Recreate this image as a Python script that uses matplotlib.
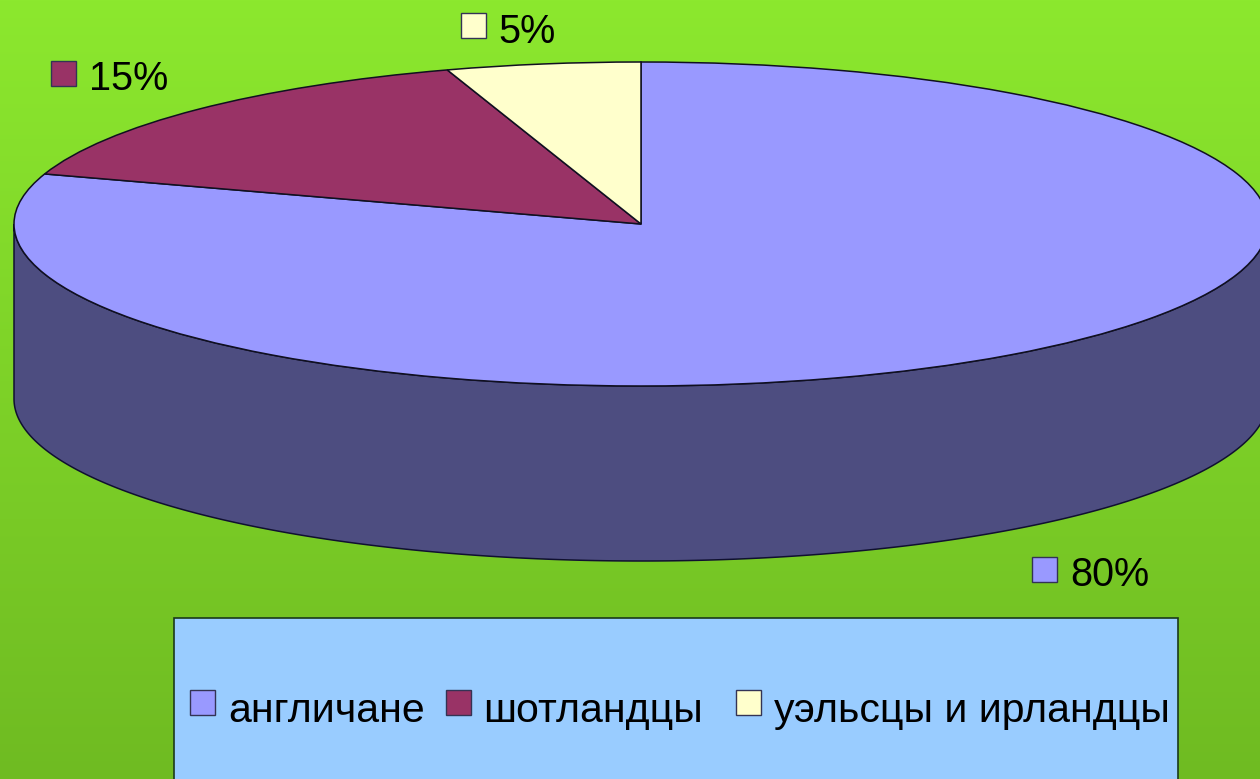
import numpy as np
import matplotlib
matplotlib.use("Agg")
import matplotlib.pyplot as plt
from matplotlib.patches import Rectangle

categories = ["англичане", "шотландцы", "уэльсцы и ирландцы"]
values = [80, 15, 5]
value_labels = ["80%", "15%", "5%"]

W, H = 1260, 779
TOP_COLORS = "#9999FF", "#993366", "#FFFFCC"
SIDE_COLOR = "#4D4D80"
plt.rcParams["font.family"] = ["Liberation Sans", "DejaVu Sans"]

fig = plt.figure(figsize=(W / 100, H / 100), dpi=100)

# gradient background
bg = fig.add_axes([0, 0, 1, 1])
top, bottom = np.array([0x8C, 0xE8, 0x2E]) / 255, np.array([0x6F, 0xBB, 0x22]) / 255
t = np.linspace(0, 1, H)[:, None, None]
bg.imshow(top + (bottom - top) * t, aspect="auto", extent=(0, W, H, 0), zorder=0)
bg.set_xlim(0, W); bg.set_ylim(H, 0); bg.axis("off")

# pie: unit circle squeezed into an ellipse (centre 641,224; radii 627,162)
cx, cy, rx, ry, depth = 641, 224, 627, 162, 175
pie_ax = fig.add_axes([(cx - rx) / W, 1 - (cy + ry) / H, 2 * rx / W, 2 * ry / H])
pie_ax.patch.set_alpha(0)
th = np.linspace(np.pi, 2 * np.pi, 400)
d = depth / ry
pie_ax.fill(np.r_[np.cos(th), np.cos(th[::-1])],
            np.r_[np.sin(th) - d, np.sin(th[::-1])],
            facecolor=SIDE_COLOR, edgecolor="#101030", linewidth=1.1, clip_on=False, zorder=1)
wedges, _ = pie_ax.pie(values, colors=TOP_COLORS, startangle=90, counterclock=False, radius=1,
                       wedgeprops=dict(edgecolor="#101020", linewidth=1.1, clip_on=False, zorder=2))
pie_ax.set_aspect("auto")
pie_ax.set_xlim(-1, 1); pie_ax.set_ylim(-1, 1)
pie_ax.axis("off")

# overlay for labels and legend, in pixels
ov = fig.add_axes([0, 0, 1, 1])
ov.patch.set_alpha(0)
ov.set_xlim(0, W); ov.set_ylim(H, 0); ov.axis("off")

def swatch(x, y, w, h, c):
    ov.add_patch(Rectangle((x, y), w, h, facecolor=c, edgecolor="#333355", linewidth=1.0, zorder=5))

for lab, c, (sx, sy), (tx, ty) in zip(
        value_labels, TOP_COLORS,
        [(1032, 557), (51, 61), (461, 13)],
        [(1070, 586), (89, 90), (498, 43)]):
    swatch(sx, sy, 25, 25, c)
    ov.text(tx, ty, lab, fontsize=28.5, va="baseline", ha="left", color="black", zorder=6)

ov.add_patch(Rectangle((174, 618), 1004, 170, facecolor="#99CCFF", edgecolor="#1A3A1A",
                       linewidth=1.2, zorder=3, clip_on=True))
for lab, c, sx, tx in zip(categories, TOP_COLORS, [190, 446, 736], [228, 483, 774]):
    swatch(sx, 690, 25, 25, c)
    ov.text(tx, 722, lab, fontsize=29.5, va="baseline", ha="left", color="black", zorder=6)

fig.savefig("out.png", dpi=100)
